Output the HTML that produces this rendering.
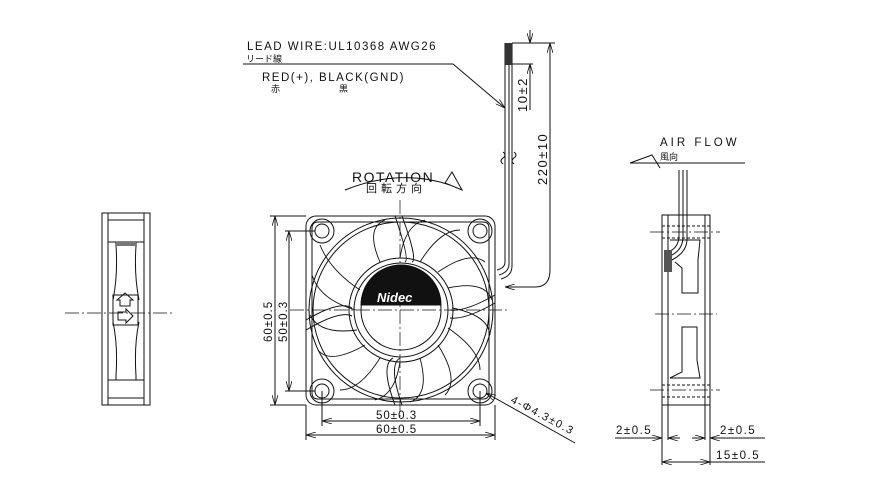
<!DOCTYPE html>
<html><head><meta charset="utf-8"><style>
html,body{margin:0;padding:0;background:#fff;}
svg{display:block;}
text{font-family:"Liberation Sans","Noto Sans CJK JP",sans-serif;fill:#111;}
</style></head><body>
<svg width="870" height="484" viewBox="0 0 870 484" xmlns="http://www.w3.org/2000/svg">
<defs>
<marker id="a" markerWidth="10" markerHeight="6" refX="10" refY="3" orient="auto" markerUnits="userSpaceOnUse"><path d="M0,0 L10,3 L0,6" fill="none" stroke="#111" stroke-width="0.8"/></marker>
</defs>
<g stroke="#111" fill="none" stroke-width="1">

<line x1="243" y1="64" x2="453" y2="64"/>
<line x1="453" y1="64" x2="505" y2="108" marker-end="url(#a)"/>

<path d="M505,43 V262 Q505,268 497,270"/>
<path d="M509,43 V264 Q509,272 499,275"/>
<path d="M512,43 V266 Q512,276 501,279"/>
<rect x="505" y="43" width="7" height="22" fill="#333" stroke="none"/>
<path d="M503,152 q4,3 0,6 q-4,3 0,6" /><path d="M514,152 q4,3 0,6 q-4,3 0,6"/>

<line x1="512" y1="43" x2="555" y2="43"/>
<line x1="512" y1="64" x2="533" y2="64"/>
<line x1="530" y1="30" x2="530" y2="43" marker-end="url(#a)"/>
<line x1="530" y1="110" x2="530" y2="64" marker-end="url(#a)"/>
<line x1="550" y1="270" x2="550" y2="43" marker-end="url(#a)"/>
<path d="M550,270 Q550,287 535,287 H505" marker-end="url(#a)"/>

<path d="M345,190 Q400,168 450,185"/>
<path d="M445,183 L452,172 L462,190 Z"/>

<rect x="306" y="216" width="189" height="189" rx="10"/>
<path d="M318,222 H483 Q489,222 489,228 V393 Q489,399 483,399 H318 Q312,399 312,393 V228 Q312,222 318,222"/>
<circle cx="322" cy="231" r="7"/><circle cx="480" cy="231" r="7"/>
<circle cx="322" cy="391" r="7"/><circle cx="480" cy="391" r="7"/>
<circle cx="322" cy="231" r="12"/><circle cx="480" cy="231" r="12"/>
<circle cx="322" cy="391" r="12"/><circle cx="480" cy="391" r="12"/>
<circle cx="401" cy="310" r="92"/>
<circle cx="401" cy="310" r="88"/>
<circle cx="401" cy="310" r="52"/>
<circle cx="401" cy="310" r="47"/>
<circle cx="401" cy="310" r="40"/>
<path d="M361,305 A40,40 0 0 1 441,305 Z" fill="#111"/>
<g stroke-width="0.9">
<path d="M360,290 Q330,270 320,245"/><path d="M356,310 Q320,300 312,275"/>
<path d="M357,330 Q320,335 310,315"/><path d="M365,345 Q330,365 318,350"/>
<path d="M380,358 Q360,390 340,390"/><path d="M400,362 Q395,395 375,400"/>
<path d="M420,358 Q430,395 410,402"/><path d="M438,345 Q460,380 445,395"/>
<path d="M448,328 Q480,350 480,370"/><path d="M452,308 Q488,315 490,335"/>
<path d="M448,288 Q485,280 492,300"/><path d="M438,272 Q470,250 485,262"/>
<path d="M420,262 Q440,230 460,230"/><path d="M400,258 Q405,225 425,220"/>
<path d="M380,262 Q365,228 385,220"/>
</g>
<path d="M395,216 Q410,260 405,262"/><path d="M402,216 Q418,260 412,262"/>
<path d="M395,405 Q380,365 393,358"/><path d="M402,405 Q388,365 400,358"/>
<path d="M306,320 Q340,300 352,308"/><path d="M306,330 Q340,310 352,316"/>
<path d="M495,295 Q465,312 450,310"/><path d="M495,303 Q465,320 450,318"/>
<line x1="400" y1="200" x2="400" y2="420" stroke-dasharray="14,3,2,3" stroke-width="0.7"/>
<line x1="290" y1="310" x2="510" y2="310" stroke-dasharray="14,3,2,3" stroke-width="0.7"/>

<line x1="270" y1="216" x2="306" y2="216"/><line x1="270" y1="405" x2="306" y2="405"/>
<line x1="285" y1="231" x2="315" y2="231"/><line x1="285" y1="391" x2="315" y2="391"/>
<line x1="275" y1="310" x2="275" y2="216" marker-end="url(#a)"/><line x1="275" y1="310" x2="275" y2="405" marker-end="url(#a)"/>
<line x1="289" y1="310" x2="289" y2="231" marker-end="url(#a)"/><line x1="289" y1="310" x2="289" y2="391" marker-end="url(#a)"/>
<line x1="306" y1="405" x2="306" y2="440"/><line x1="495" y1="405" x2="495" y2="440"/>
<line x1="322" y1="391" x2="322" y2="426"/><line x1="480" y1="391" x2="480" y2="426"/>
<line x1="400" y1="421" x2="322" y2="421" marker-end="url(#a)"/><line x1="400" y1="421" x2="480" y2="421" marker-end="url(#a)"/>
<line x1="400" y1="435" x2="306" y2="435" marker-end="url(#a)"/><line x1="400" y1="435" x2="495" y2="435" marker-end="url(#a)"/>
<line x1="575" y1="443" x2="486" y2="393" marker-end="url(#a)"/>

<rect x="102" y="213" width="48" height="192"/>
<line x1="108" y1="213" x2="108" y2="405"/><line x1="144" y1="213" x2="144" y2="405"/>
<line x1="108" y1="220" x2="144" y2="220"/><line x1="108" y1="398" x2="144" y2="398"/>
<path d="M108,242 H144 M116,242 V246 Q118,275 113,300 M136,242 V246 Q134,275 139,300"/>
<path d="M108,380 H144 M116,380 V376 Q118,345 113,322 M136,380 V376 Q134,345 139,322"/>
<rect x="116" y="242" width="20" height="4" fill="#777" stroke="none"/>
<rect x="113" y="295" width="25" height="30"/>
<path d="M120,306 V300 h-3 l8,-7 l8,7 h-3 v6 z"/>
<path d="M118,312 h8 v-3 l7,7 l-7,7 v-3 h-8 z"/>
<line x1="65" y1="313" x2="175" y2="313" stroke-dasharray="14,3,2,3" stroke-width="0.7"/>

<line x1="630" y1="163" x2="745" y2="163"/>
<path d="M630,163 L652,155 L660,168"/>
<path d="M679,170 V235 Q679,248 668,252"/><path d="M683,170 V237 Q683,250 670,256"/><path d="M687,170 V239 Q687,252 672,260"/>
<rect x="662" y="215" width="48" height="190"/>
<line x1="668" y1="215" x2="668" y2="405"/><line x1="705" y1="215" x2="705" y2="405"/>
<line x1="662" y1="226" x2="710" y2="226" stroke-dasharray="3,2"/><line x1="662" y1="238" x2="710" y2="238" stroke-dasharray="3,2"/>
<line x1="662" y1="385" x2="710" y2="385" stroke-dasharray="3,2"/><line x1="662" y1="397" x2="710" y2="397" stroke-dasharray="3,2"/>
<path d="M670,240 H700 L698,260 V293 H682 V268 L675,262"/>
<path d="M682,327 H697 V360 L700,378 H670 L682,372 Z"/>
<rect x="664" y="250" width="8" height="22" fill="#555" stroke="none"/>
<line x1="650" y1="232" x2="720" y2="232" stroke-dasharray="14,3,2,3" stroke-width="0.7"/>
<line x1="655" y1="314" x2="717" y2="314" stroke-dasharray="14,3,2,3" stroke-width="0.7"/>
<line x1="650" y1="390" x2="720" y2="390" stroke-dasharray="14,3,2,3" stroke-width="0.7"/>
<line x1="662" y1="405" x2="662" y2="465"/><line x1="668" y1="405" x2="668" y2="440"/>
<line x1="705" y1="405" x2="705" y2="440"/><line x1="710" y1="405" x2="710" y2="465"/>
<line x1="615" y1="438" x2="662" y2="438" marker-end="url(#a)"/><line x1="680" y1="438" x2="668" y2="438" marker-end="url(#a)"/>
<line x1="692" y1="438" x2="705" y2="438" marker-end="url(#a)"/><line x1="765" y1="438" x2="710" y2="438" marker-end="url(#a)"/>
<line x1="686" y1="462" x2="662" y2="462" marker-end="url(#a)"/><line x1="686" y1="462" x2="710" y2="462" marker-end="url(#a)"/>
<line x1="710" y1="462" x2="765" y2="462"/>
</g>

<g font-size="11.5" letter-spacing="1.5">
<text x="247" y="50">LEAD WIRE:UL10368 AWG26</text>
<text x="262" y="81">RED(+), BLACK(GND)</text>
<text x="660" y="146" letter-spacing="3">AIR FLOW</text>
<text x="376" y="419" letter-spacing="1">50±0.3</text>
<text x="376" y="433" letter-spacing="1">60±0.5</text>
<text x="616" y="434">2±0.5</text>
<text x="720" y="434">2±0.5</text>
<text x="716" y="459">15±0.5</text>
<text transform="translate(272,342) rotate(-90)" letter-spacing="1">60±0.5</text>
<text transform="translate(287,342) rotate(-90)" letter-spacing="1">50±0.3</text>
<text transform="translate(527,112) rotate(-90)" font-size="13">10±2</text>
<text transform="translate(547,185) rotate(-90)" font-size="13">220±10</text>
<text transform="translate(510,402) rotate(28)" font-size="11">4-Φ4.3±0.3</text>
<text x="352" y="182" font-size="14" letter-spacing="1.5">ROTATION</text>
</g>
<g font-size="9">
<text x="246" y="62">リード線</text>
<text x="271" y="92">赤</text>
<text x="339" y="92">黒</text>
<text x="660" y="160">風向</text>
<text x="366" y="192" font-size="11" letter-spacing="4">回転方向</text>
</g>
<text x="377" y="302" font-size="13" font-weight="bold" font-style="italic" style="fill:#fff">Nidec</text>
</svg>
</body></html>
